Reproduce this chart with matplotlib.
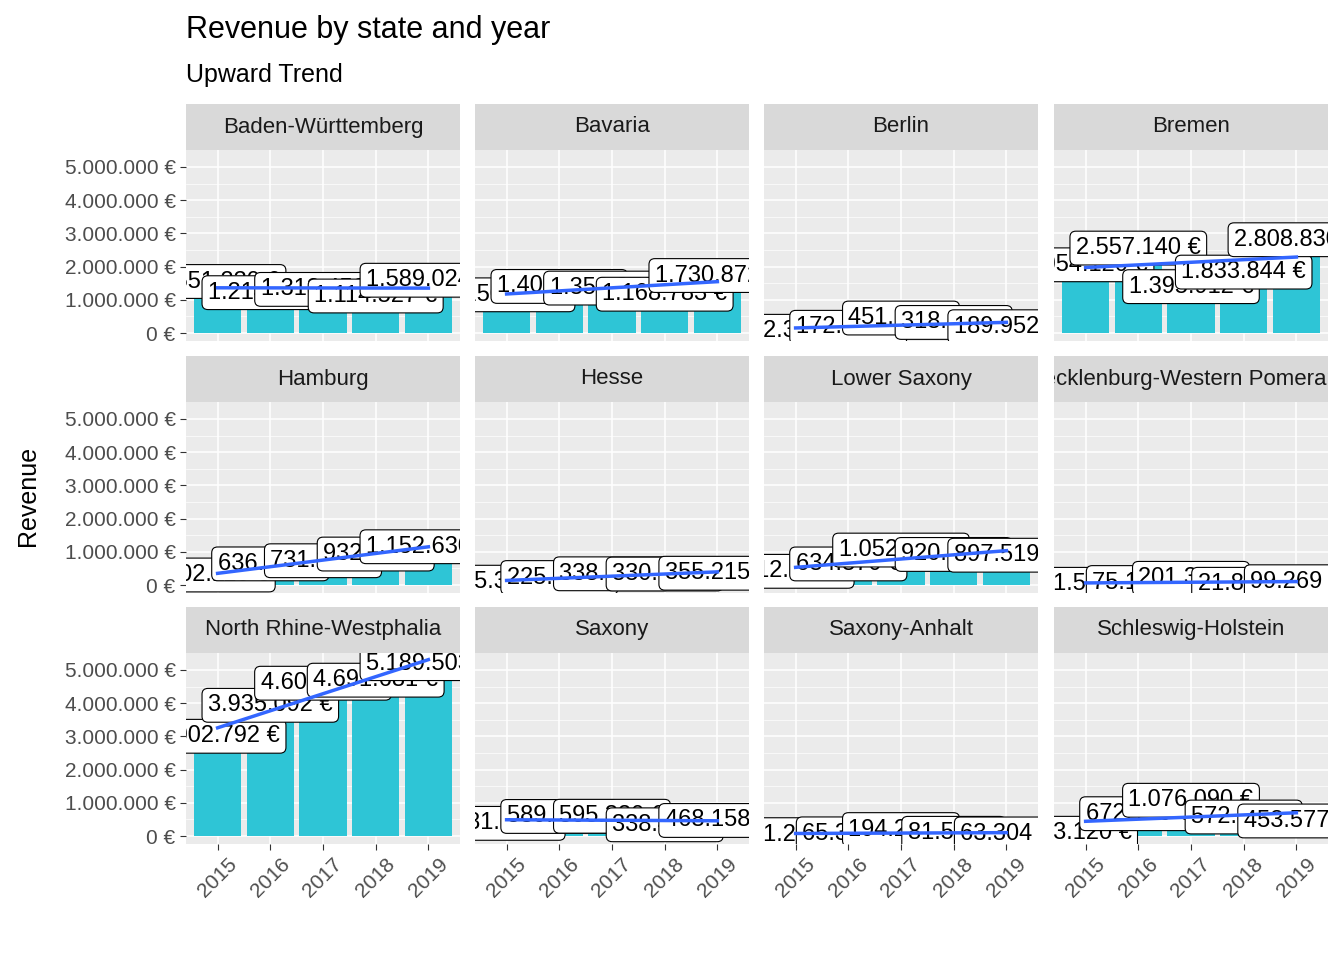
import numpy as np
import matplotlib.pyplot as plt

plt.rcParams['font.family'] = ['Liberation Sans', 'DejaVu Sans']

# data (revenue in euro)
states = ["Baden-Württemberg", "Bavaria", "Berlin", "Bremen",
          "Hamburg", "Hesse", "Lower Saxony", "Mecklenburg-Western Pomerania",
          "North Rhine-Westphalia", "Saxony", "Saxony-Anhalt", "Schleswig-Holstein"]
years = [2015, 2016, 2017, 2018, 2019]

bw = [1551230, 1214880, 1313450, 1114527, 1589024]
by = [1150440, 1402310, 1352870, 1168783, 1730872]
be = [52340, 172580, 451230, 318460, 189952]
hb = [2054120, 2557140, 1395912, 1833844, 2808830]
hh = [302110, 636480, 731250, 932540, 1152630]
he = [85320, 225410, 338120, 330870, 355215]
ni = [412380, 634870, 1052330, 920410, 897519]
mv = [21540, 75120, 201330, 21870, 99269]
nw = [3002792, 3935092, 4600310, 4691681, 5189503]
sn = [381240, 589120, 595330, 338410, 468158]
st = [41230, 65380, 194220, 81550, 63304]
sh = [83120, 672140, 1076090, 572310, 453577]
revenue = [bw, by, be, hb, hh, he, ni, mv, nw, sn, st, sh]


def euro(v):
    return f"{v:,.0f} €".replace(",", ".")


fig = plt.figure(figsize=(13.44, 9.6), dpi=100)
W, H = 1344, 960
lefts = [186, 475, 764, 1054]
pw = 274
tops = [150, 402, 653]
ph = 191
strip_h = 46
x = np.arange(1, 6)

for i, (name, vals) in enumerate(zip(states, revenue)):
    r, c = divmod(i, 4)
    ax = fig.add_axes([lefts[c] / W, 1 - (tops[r] + ph) / H, pw / W, ph / H])
    ax.set_facecolor("#EBEBEB")
    ax.bar(x, vals, width=0.9, color="#2EC5D6", zorder=2)
    for xi, v in zip(x, vals):
        ax.text(xi, v, euro(v), fontsize=17, ha="center", va="center", zorder=4,
                clip_on=True,
                bbox=dict(boxstyle="round,pad=0.25", fc="white", ec="black", lw=0.8))
    k, b = np.polyfit(x, vals, 1)
    ax.plot(x, k * x + b, color="#3366FF", lw=2.5, zorder=5)
    ax.set_xlim(0.4, 5.6)
    ax.set_ylim(-240000, 5510000)
    ax.set_yticks(np.arange(0, 5000001, 1000000))
    ax.set_yticks(np.arange(500000, 5000001, 1000000), minor=True)
    ax.set_xticks(x)
    ax.grid(True, which="major", color="white", lw=1.1, zorder=0)
    ax.grid(True, which="minor", axis="y", color="white", lw=0.5, zorder=0)
    for s in ax.spines.values():
        s.set_visible(False)
    ax.tick_params(colors="#333333", labelsize=15, length=4, width=0.8)
    ax.tick_params(which="minor", length=0)
    if c == 0:
        ax.set_yticklabels([euro(v) for v in range(0, 5000001, 1000000)], color="#4D4D4D")
    else:
        ax.tick_params(axis="y", length=0, labelleft=False)
    if r == 2:
        ax.set_xticklabels(years, rotation=45, color="#4D4D4D")
    else:
        ax.tick_params(axis="x", length=0, labelbottom=False)
    # strip
    sax = fig.add_axes([lefts[c] / W, 1 - (tops[r]) / H, pw / W, strip_h / H])
    sax.set_facecolor("#D9D9D9")
    sax.set_xticks([])
    sax.set_yticks([])
    for s in sax.spines.values():
        s.set_visible(False)
    sax.text(0.5, 0.5, name, ha="center", va="center", fontsize=16,
             color="#1A1A1A", transform=sax.transAxes, clip_on=True)

fig.text(186 / W, 1 - 30 / H, "Revenue by state and year", fontsize=22, va="center")
fig.text(186 / W, 1 - 75 / H, "Upward Trend", fontsize=18, va="center")
fig.text(28 / W, 1 - 496 / H, "Revenue", fontsize=18, rotation=90, ha="center", va="center")

fig.savefig("out.png", dpi=100)
